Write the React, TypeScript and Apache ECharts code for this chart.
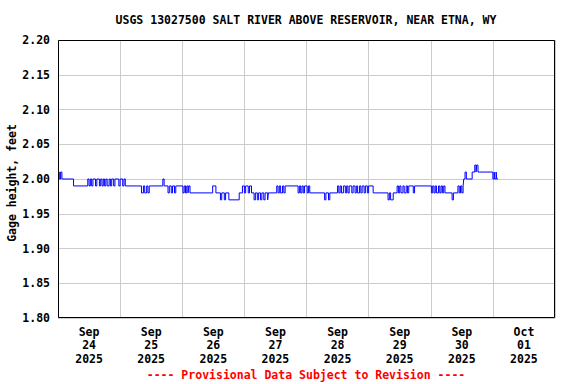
import React, { useEffect, useRef } from "react";
import * as echarts from "echarts";

// Hours since Sep 24 2025 00:00 where the gage height changes, and the new value
const changeHours = [
  0, 0.5, 1.0, 1.5, 6.0, 11.5, 12.0, 12.5, 13.0, 13.5, 14.5, 15.0, 16.0, 16.5, 17.0, 17.5, 18.0, 18.5, 19.0,
  19.75, 20.25, 20.75, 21.5, 22.0, 23.5, 24.0, 25.0, 25.5, 26.0, 32.25, 33.0, 33.5, 34.25, 34.75, 35.25,
  40.5, 41.0, 42.5, 43.0, 43.75, 44.25, 45.0, 45.5, 48.25, 48.75, 49.25, 49.75, 50.25, 50.5, 51.0,
  59.75, 61.0, 62.75, 63.25, 64.25, 64.75, 66.0, 70.0, 71.25, 72.0, 72.5, 73.5, 74.0, 74.75,
  75.75, 76.25, 77.0, 77.5, 78.25, 78.75, 79.5, 80.0, 81.0, 81.25, 84.5, 85.0, 85.5, 86.0, 86.75, 87.25, 87.75,
  92.75, 93.25, 93.75, 94.25, 94.75, 95.25, 96.25, 96.75, 97.25, 103.0, 103.5, 104.5, 105.0,
  108.0, 108.5, 109.0, 109.5, 110.25, 111.0, 111.5, 112.0, 112.5, 113.5, 114.0, 114.75, 115.25, 115.75,
  116.5, 117.0, 117.5, 118.25, 118.75, 119.5, 120.0, 121.75, 127.5, 128.0, 128.5, 129.5,
  131.0, 131.5, 132.0, 132.5, 133.25, 133.75, 134.5, 135.0, 135.5, 137.25, 137.75,
  144.25, 144.75, 145.25, 145.75, 146.25, 147.0, 147.5, 148.0, 148.5, 149.0, 149.5, 152.25, 152.75,
  154.5, 155.0, 155.5, 156.0, 156.5, 156.75, 157.25, 157.75, 160.0, 161.0, 161.5, 161.75, 162.25,
  168.0, 168.5, 168.75, 169.25, 169.5, 170.0,
];
const gageFeet = [
  2.01, 2.0, 2.01, 2.0, 1.99, 2.0, 1.99, 2.0, 1.99, 2.0, 1.99, 2.0, 1.99, 2.0, 1.99, 2.0, 1.99, 2.0, 1.99,
  2.0, 1.99, 2.0, 1.99, 2.0, 1.99, 2.0, 1.99, 2.0, 1.99, 1.98, 1.99, 1.98, 1.99, 1.98, 1.99,
  2.0, 1.99, 1.98, 1.99, 1.98, 1.99, 1.98, 1.99, 1.98, 1.99, 1.98, 1.99, 1.98, 1.99, 1.98,
  1.99, 1.98, 1.97, 1.98, 1.97, 1.98, 1.97, 1.98, 1.99, 1.98, 1.99, 1.98, 1.99, 1.98,
  1.97, 1.98, 1.97, 1.98, 1.97, 1.98, 1.97, 1.98, 1.97, 1.98, 1.99, 1.98, 1.99, 1.98, 1.99, 1.98, 1.99,
  1.98, 1.99, 1.98, 1.99, 1.98, 1.99, 1.98, 1.99, 1.98, 1.97, 1.98, 1.97, 1.98,
  1.99, 1.98, 1.99, 1.98, 1.99, 1.98, 1.99, 1.98, 1.99, 1.98, 1.99, 1.98, 1.99, 1.98,
  1.99, 1.98, 1.99, 1.98, 1.99, 1.98, 1.99, 1.98, 1.97, 1.98, 1.97, 1.98,
  1.99, 1.98, 1.99, 1.98, 1.99, 1.98, 1.99, 1.98, 1.99, 1.98, 1.99,
  1.98, 1.99, 1.98, 1.99, 1.98, 1.99, 1.98, 1.99, 1.98, 1.99, 1.98, 1.97, 1.98,
  1.99, 1.98, 1.99, 1.98, 1.99, 2.0, 2.01, 2.0, 2.01, 2.02, 2.01, 2.02, 2.01,
  2.0, 2.01, 2.0, 2.01, 2.0, 2.0,
];
const dayLabels = [
  "Sep\n24\n2025", "Sep\n25\n2025", "Sep\n26\n2025", "Sep\n27\n2025",
  "Sep\n28\n2025", "Sep\n29\n2025", "Sep\n30\n2025", "Oct\n01\n2025",
];
const titleText = "USGS 13027500 SALT RIVER ABOVE RESERVOIR, NEAR ETNA, WY";
const footerText = "---- Provisional Data Subject to Revision ----";
const yAxisName = "Gage height, feet";

const FONT = "'DejaVu Sans Mono', monospace";

export default function App() {
  const ref = useRef<HTMLDivElement>(null);
  useEffect(() => {
    if (!ref.current) return;
    const chart = echarts.init(ref.current, null, { renderer: "svg" });
    const data = changeHours.map((h, i) => [h, gageFeet[i]]);
    chart.setOption({
      animation: false,
      backgroundColor: "#ffffff",
      grid: {
        left: 58, right: 21, top: 40, bottom: 66,
        outerBoundsMode: "none", containLabel: false,
        show: false,
      },
      graphic: [
        {
          type: "text", x: 306, y: 20,
          style: { text: titleText, fill: "#000", font: `bold 11.5px ${FONT}`, align: "center", verticalAlign: "middle" },
        },
        {
          type: "text", x: 306, y: 375,
          style: { text: footerText, fill: "#ff0000", font: `bold 11.5px ${FONT}`, align: "center", verticalAlign: "middle" },
        },
        {
          type: "text", x: 12, y: 183, rotation: Math.PI / 2,
          style: { text: yAxisName, fill: "#000", font: `bold 11.5px ${FONT}`, align: "center", verticalAlign: "middle" },
        },
        {
          type: "rect", z: 100, silent: true,
          shape: { x: 58.5, y: 40.5, width: 496, height: 277 },
          style: { fill: "none", stroke: "#000", lineWidth: 1 },
        },
      ],
      xAxis: [
        {
          type: "value", min: 0, max: 192, interval: 24,
          axisLine: { show: false }, axisTick: { show: false }, axisLabel: { show: false },
          splitLine: { show: true, lineStyle: { color: "#cccccc", width: 1 } },
        },
        {
          type: "value", min: 0, max: 192, interval: 12, position: "bottom",
          axisLine: { show: false }, axisTick: { show: false }, splitLine: { show: false },
          axisLabel: {
            show: true, margin: 7, lineHeight: 13.5,
            color: "#000", fontFamily: FONT, fontWeight: "bold", fontSize: 11.5,
            formatter: (v: number) => (v % 24 === 12 ? dayLabels[(v - 12) / 24] || "" : ""),
          },
        },
      ],
      yAxis: {
        type: "value", min: 1.8, max: 2.2, interval: 0.05,
        axisLine: { show: false }, axisTick: { show: false },
        axisLabel: {
          color: "#000", fontFamily: FONT, fontWeight: "bold", fontSize: 11.5, margin: 8,
          formatter: (v: number) => v.toFixed(2),
        },
        splitLine: { show: true, lineStyle: { color: "#cccccc", width: 1 } },
      },
      series: [
        {
          type: "line", xAxisIndex: 0, data, step: "end", showSymbol: false,
          lineStyle: { color: "#0000ff", width: 1 }, silent: true,
        },
      ],
    });
    return () => chart.dispose();
  }, []);
  return (
    <div
      ref={ref}
      style={{ position: "fixed", left: 0, top: 0, width: 576, height: 384, background: "#fff" }}
    />
  );
}
